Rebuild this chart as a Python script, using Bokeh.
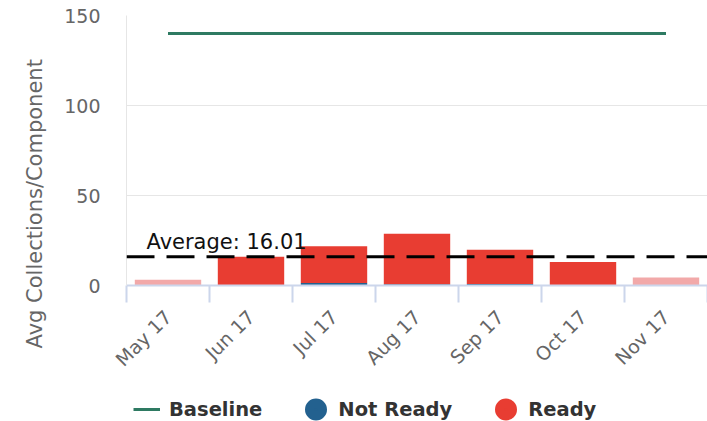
from bokeh.plotting import figure
from bokeh.layouts import column
from bokeh.models import (ColumnDataSource, Range1d, FixedTicker, Span, Label,
                          Legend, LegendItem, Title)
from bokeh.embed import file_html
from bokeh.resources import INLINE

# ---- data ----
months = ["May 17", "Jun 17", "Jul 17", "Aug 17", "Sep 17", "Oct 17", "Nov 17"]
ready = [3.2, 16.0, 20.4, 28.0, 19.0, 13.0, 4.4]
not_ready = [0.0, 0.0, 1.4, 0.7, 0.8, 0.0, 0.0]
baseline = [140, 140, 140, 140, 140, 140, 140]
partial = [True, False, False, False, False, False, True]
average = 16.01
y_ticks = [0, 50, 100, 150]

FONT = "DejaVu Sans"
RED = "#E83D32"
PINK = "#F2A9A9"
BLUE = "#23618F"
GREEN = "#2E7A62"

n = len(months)
centers = [i + 0.5 for i in range(n)]
stack_top = [a + b for a, b in zip(not_ready, ready)]
ready_colors = [PINK if p else RED for p in partial]

src = ColumnDataSource(dict(x=centers, nr=not_ready, top=stack_top,
                            rc=ready_colors, base=baseline))

p = figure(width=707, height=385, output_backend="svg", toolbar_location=None,
           x_range=Range1d(0, n), y_range=Range1d(0, 150),
           min_border_left=126, min_border_right=0, min_border_top=15,
           min_border_bottom=100)
p.outline_line_color = None
p.background_fill_color = "white"

# bars
p.vbar(x="x", bottom=0, top="nr", width=0.8, source=src, fill_color=BLUE,
       line_color=None)
p.vbar(x="x", bottom="nr", top="top", width=0.8, source=src, fill_color="rc",
       line_color=None)

# baseline
p.line(x="x", y="base", source=src, line_color=GREEN, line_width=3)

# average line + label
p.add_layout(Span(location=average, dimension="width", line_color="black",
                  line_width=3, line_dash="28 12"))
p.add_layout(Label(x=0, y=average, x_offset=20, y_offset=15,
                   text="Average: %.2f" % average, text_font=FONT,
                   text_font_size="21px", text_color="#111111",
                   text_baseline="alphabetic"))

# axes
xa = p.xaxis[0]
xa.ticker = FixedTicker(ticks=centers, minor_ticks=list(range(n + 1)))
xa.major_label_overrides = {c: m for c, m in zip(centers, months)}
xa.major_tick_in = 0
xa.major_tick_out = 0
xa.minor_tick_in = 0
xa.minor_tick_out = 17
xa.minor_tick_line_color = "#ccd6eb"
xa.minor_tick_line_width = 2
xa.axis_line_color = "#ccd6eb"
xa.axis_line_width = 2
xa.major_label_orientation = 0.785398
xa.major_label_text_font = FONT
xa.major_label_text_font_size = "19px"
xa.major_label_text_color = "#666666"
xa.major_label_standoff = 11

ya = p.yaxis[0]
ya.ticker = FixedTicker(ticks=y_ticks)
ya.major_tick_in = 0
ya.major_tick_out = 0
ya.minor_tick_in = 0
ya.minor_tick_out = 0
ya.axis_line_color = "#e6e6e6"
ya.major_label_text_font = FONT
ya.major_label_text_font_size = "19px"
ya.major_label_text_color = "#666666"
ya.major_label_standoff = 26

p.add_layout(Title(text="Avg Collections/Component", align="left", offset=-63,
                   text_font=FONT, text_font_size="21px",
                   text_font_style="normal", text_color="#666666",
                   standoff=30), "left")

p.xgrid.grid_line_color = None
p.ygrid.grid_line_color = "#e6e6e6"
p.ygrid.ticker = FixedTicker(ticks=y_ticks)

# ---- legend strip ----
lf = figure(width=707, height=36, output_backend="svg", toolbar_location=None,
            x_range=Range1d(0, n), y_range=Range1d(-20, -19),
            min_border_left=126, min_border_right=0, min_border_top=0,
            min_border_bottom=0)
lf.axis.visible = False
lf.grid.visible = False
lf.outline_line_color = None

# legend proxies (outside the strip's visible range; only their swatches show)
bl_proxy = lf.line(x="x", y="base", source=src, line_color=GREEN, line_width=3)
nr_proxy = lf.scatter(x="x", y="nr", source=src, marker="circle",
                      fill_color=BLUE, line_color=BLUE, line_width=12.4)
rd_proxy = lf.scatter(x="x", y="top", source=src, marker="circle",
                      fill_color=RED, line_color=RED, line_width=12.4)

legend = Legend(items=[LegendItem(label="Baseline", renderers=[bl_proxy]),
                       LegendItem(label="Not Ready", renderers=[nr_proxy]),
                       LegendItem(label="Ready", renderers=[rd_proxy])],
                location=(7, 0), orientation="horizontal",
                glyph_width=27, glyph_height=24, label_standoff=9,
                spacing=40, padding=0, margin=0,
                border_line_color=None, background_fill_alpha=0,
                label_text_font=FONT, label_text_font_size="19.5px",
                label_text_font_style="bold", label_text_color="#333333",
                label_height=24)
lf.add_layout(legend, "center")

layout = column(p, lf, spacing=0)
open("out.html", "w").write(file_html(layout, INLINE))
